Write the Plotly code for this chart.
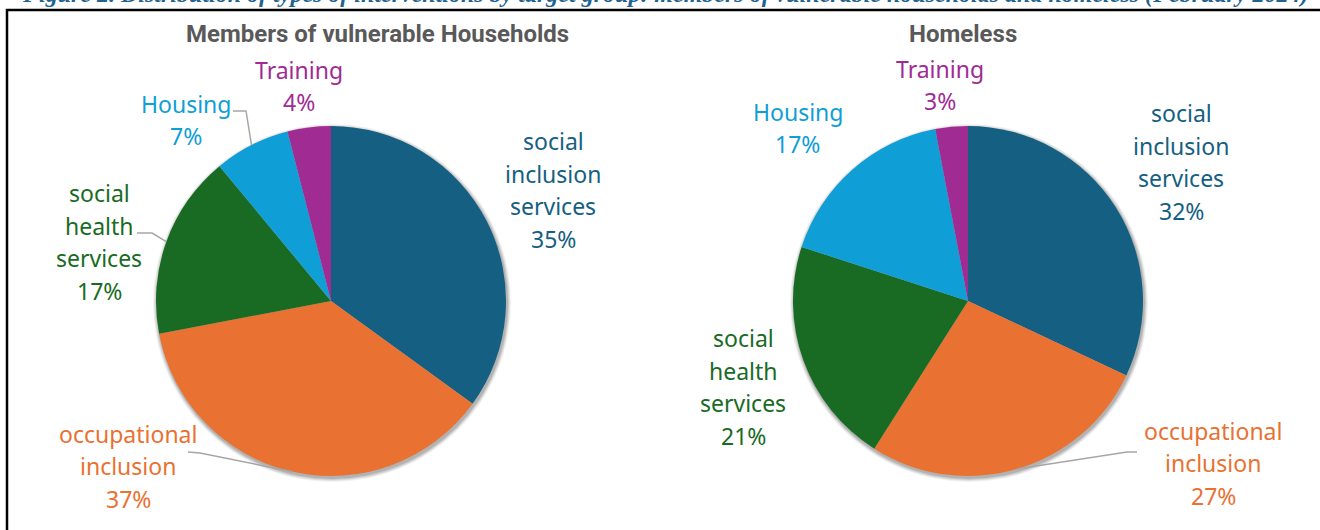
import math
import plotly.graph_objects as go

# Intervention categories (clockwise from 12 o'clock)
categories = ["social inclusion services", "occupational inclusion",
              "social health services", "Housing", "Training"]
households_pct = [35, 37, 17, 7, 4]
homeless_pct = [32, 27, 21, 17, 3]

# Label text broken into lines
label_lines = [["social", "inclusion", "services"],
               ["occupational", "inclusion"],
               ["social", "health", "services"],
               ["Housing"],
               ["Training"]]

colors = ["#156082", "#E97132", "#196B24", "#0F9ED5", "#A02B93"]

W, H = 1320, 530
R = 175
LINE_H = 32.5
LABEL_FONT = dict(family="Noto Sans", size=23)


def px(x, y):
    return x / W, 1 - y / H


# Layout of each pie: centre, label centres (px) and leader-line elbows
pies = [
    dict(title="Members of vulnerable Households", title_x=377,
         values=households_pct, cx=331, cy=301,
         label_pos=[(553, 190), (128, 466), (99, 242), (186, 120), (299, 86)],
         leaders={1: [(188, 452), (200, 453)],
                  2: [(137, 233), (152, 233)],
                  3: [(233, 111), (246, 111)]}),
    dict(title="Homeless", title_x=963,
         values=homeless_pct, cx=968, cy=301,
         label_pos=[(1181, 162), (1213, 463), (743, 387), (798, 128), (940, 85)],
         leaders={1: [(1137, 452), (1127, 452)]}),
]

fig = go.Figure()
annotations = []
shapes = []

for p in pies:
    cx, cy = p["cx"], p["cy"]
    x0, y1 = px(cx - R, cy - R)
    x1, y0 = px(cx + R, cy + R)

    # soft shadow behind the pie
    for k, op in [(4, 0.05), (3, 0.07), (2, 0.09), (1, 0.12)]:
        sx0, sy1 = px(cx - R - k + 1, cy - R - k + 2)
        sx1, sy0 = px(cx + R + k + 1, cy + R + k + 2)
        shapes.append(dict(type="circle", xref="paper", yref="paper",
                           x0=sx0, x1=sx1, y0=sy0, y1=sy1, layer="below",
                           line=dict(width=0), fillcolor=f"rgba(0,0,0,{op})"))

    fig.add_trace(go.Pie(
        values=p["values"], labels=categories, sort=False,
        direction="clockwise", rotation=0, textinfo="none",
        marker=dict(colors=colors, line=dict(width=0)),
        domain=dict(x=[x0, x1], y=[y0, y1]),
        showlegend=False, hovertemplate="%{label}: %{value}%<extra></extra>",
    ))

    # pie title
    tx, ty = px(p["title_x"], 34)
    annotations.append(dict(x=tx, y=ty, xref="paper", yref="paper",
                            text=f"<b>{p['title']}</b>", showarrow=False,
                            xanchor="center", yanchor="middle",
                            font=dict(family="Roboto", size=24, color="#595959")))

    # slice labels
    total = sum(p["values"])
    cum = 0
    for i, v in enumerate(p["values"]):
        mid = (cum + v / 2) / total * 2 * math.pi
        cum += v
        lines = label_lines[i] + [f"{v}%"]
        lx, ly = p["label_pos"][i]
        n = len(lines)
        for j, t in enumerate(lines):
            ax, ay = px(lx, ly + (j - (n - 1) / 2) * LINE_H)
            annotations.append(dict(x=ax, y=ay, xref="paper", yref="paper",
                                    text=t, showarrow=False,
                                    xanchor="center", yanchor="middle",
                                    font=dict(color=colors[i], **LABEL_FONT)))
        if i in p["leaders"]:
            ex = cx + R * math.sin(mid)
            ey = cy - R * math.cos(mid)
            pts = p["leaders"][i] + [(ex, ey)]
            path = "M " + " L ".join(
                f"{px(a, b)[0]},{px(a, b)[1]}" for a, b in pts)
            shapes.append(dict(type="path", xref="paper", yref="paper",
                               path=path, line=dict(color="#A6A6A6", width=1.5)))

# frame around the chart area
bx0, by1 = px(7, 10)
shapes.append(dict(type="rect", xref="paper", yref="paper",
                   x0=bx0, x1=1.05, y0=-0.05, y1=by1,
                   line=dict(color="black", width=2.5), layer="above"))

# figure caption, sitting just above the frame
cx_, cy_ = px(20, 9)
annotations.append(dict(
    x=cx_, y=cy_, xref="paper", yref="paper", xanchor="left", yanchor="bottom",
    text="<b><i>Figure 2. Distribution of types of interventions by target group: "
         "members of vulnerable households and homeless (February 2024)</i></b>",
    showarrow=False, font=dict(family="Liberation Serif", size=24, color="#1F6390")))

fig.update_layout(
    width=W, height=H, margin=dict(l=0, r=0, t=0, b=0),
    paper_bgcolor="white", plot_bgcolor="white",
    annotations=annotations, shapes=shapes,
)

fig.write_html("out.html")
